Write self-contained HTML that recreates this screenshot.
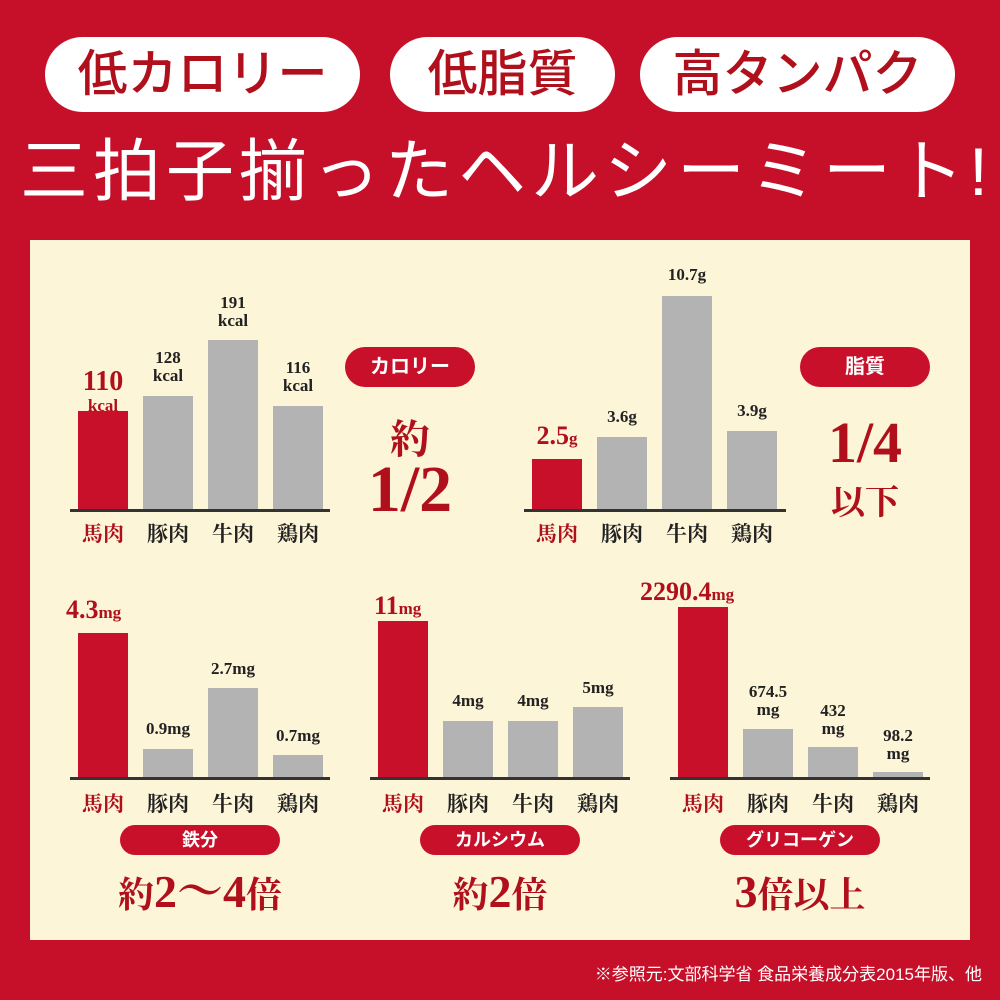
<!DOCTYPE html>
<html><head><meta charset="utf-8">
<style>
*{margin:0;padding:0;box-sizing:border-box}
body{width:1000px;height:1000px;background:#c61029;position:relative;overflow:hidden;font-family:"Liberation Serif","Noto Serif CJK JP","Noto Serif CJK SC",serif}
.a{position:absolute}
.pill{position:absolute;background:#fff;border-radius:38px;color:#b0101c;font-family:"Liberation Sans","Noto Sans CJK JP",sans-serif;font-size:50px;text-align:center;line-height:75px;top:37px;height:75px;font-weight:500}
.title{position:absolute;left:20px;top:132px;width:980px;color:#fff;font-family:"Liberation Sans","Noto Sans CJK JP",sans-serif;font-size:68px;line-height:80px;white-space:nowrap;letter-spacing:5px}
.panel{position:absolute;left:30px;top:240px;width:940px;height:700px;background:#fdf5d8}
.bar{position:absolute;width:50px;background:#b3b3b3}
.red{background:#c8102b}
.axis{position:absolute;height:3px;background:#333}
.cat{position:absolute;width:70px;text-align:center;font-size:21px;font-weight:bold;color:#222}
.val{position:absolute;width:90px;text-align:center;font-size:17px;font-weight:bold;color:#222;line-height:18px}
.rp{position:absolute;background:#c8102b;color:#fff;border-radius:20px;text-align:center;font-size:20px;font-weight:bold;font-family:"Liberation Sans","Noto Sans CJK JP",sans-serif}
.big{position:absolute;color:#b0101c;font-weight:bold;text-align:center}
</style></head><body>
<div class="pill" style="left:45px;width:315px">低カロリー</div>
<div class="pill" style="left:390px;width:225px">低脂質</div>
<div class="pill" style="left:640px;width:315px">高タンパク</div>
<div class="title">三拍子揃ったヘルシーミート!</div>
<div class="panel"></div>

<!-- calorie -->
<div class="bar red" style="left:78px;top:411px;height:99px"></div>
<div class="bar" style="left:143px;top:396px;height:114px"></div>
<div class="bar" style="left:208px;top:340px;height:170px"></div>
<div class="bar" style="left:273px;top:406px;height:104px"></div>
<div class="axis" style="left:70px;top:509px;width:260px"></div>
<div class="val" style="left:58px;top:368px;color:#b0101c;font-size:28px;line-height:28px">110</div>
<div class="val" style="left:58px;top:397px;color:#b0101c">kcal</div>
<div class="val" style="left:123px;top:349px">128<br>kcal</div>
<div class="val" style="left:188px;top:294px">191<br>kcal</div>
<div class="val" style="left:253px;top:359px">116<br>kcal</div>
<div class="cat" style="left:68px;top:518px;color:#b0101c">馬肉</div>
<div class="cat" style="left:133px;top:518px">豚肉</div>
<div class="cat" style="left:198px;top:518px">牛肉</div>
<div class="cat" style="left:263px;top:518px">鶏肉</div>
<div class="rp" style="left:345px;top:347px;width:130px;height:40px;line-height:40px">カロリー</div>
<div class="big" style="left:350px;top:408px;width:120px;font-size:40px">約</div>
<div class="big" style="left:330px;top:452px;width:160px;font-size:66px;line-height:76px">1/2</div>

<!-- fat -->
<div class="bar red" style="left:532px;top:459px;height:51px"></div>
<div class="bar" style="left:597px;top:437px;height:73px"></div>
<div class="bar" style="left:662px;top:296px;height:214px"></div>
<div class="bar" style="left:727px;top:431px;height:79px"></div>
<div class="axis" style="left:524px;top:509px;width:262px"></div>
<div class="val" style="left:512px;top:422px;color:#b0101c;font-size:26px;line-height:28px">2.5<span style="font-size:17px">g</span></div>
<div class="val" style="left:577px;top:408px">3.6g</div>
<div class="val" style="left:642px;top:266px">10.7g</div>
<div class="val" style="left:707px;top:402px">3.9g</div>
<div class="cat" style="left:522px;top:518px;color:#b0101c">馬肉</div>
<div class="cat" style="left:587px;top:518px">豚肉</div>
<div class="cat" style="left:652px;top:518px">牛肉</div>
<div class="cat" style="left:717px;top:518px">鶏肉</div>
<div class="rp" style="left:800px;top:347px;width:130px;height:40px;line-height:40px">脂質</div>
<div class="big" style="left:795px;top:408px;width:140px;font-size:58px;line-height:70px">1/4</div>
<div class="big" style="left:805px;top:475px;width:120px;font-size:34px">以下</div>

<!-- iron -->
<div class="bar red" style="left:78px;top:633px;height:145px"></div>
<div class="bar" style="left:143px;top:749px;height:29px"></div>
<div class="bar" style="left:208px;top:688px;height:90px"></div>
<div class="bar" style="left:273px;top:755px;height:23px"></div>
<div class="axis" style="left:70px;top:777px;width:260px"></div>
<div class="val" style="top:596px;width:100px;color:#b0101c;font-size:26px;line-height:28px;text-align:left;left:66px">4.3<span style="font-size:17px">mg</span></div>
<div class="val" style="left:123px;top:720px">0.9mg</div>
<div class="val" style="left:188px;top:660px">2.7mg</div>
<div class="val" style="left:253px;top:727px">0.7mg</div>
<div class="cat" style="left:68px;top:788px;color:#b0101c">馬肉</div>
<div class="cat" style="left:133px;top:788px">豚肉</div>
<div class="cat" style="left:198px;top:788px">牛肉</div>
<div class="cat" style="left:263px;top:788px">鶏肉</div>
<div class="rp" style="left:120px;top:825px;width:160px;height:30px;line-height:30px;font-size:18px">鉄分</div>
<div class="big" style="left:90px;top:862px;width:220px;font-size:36px;line-height:60px">約<span style="font-size:46px">2～4</span>倍</div>

<!-- calcium -->
<div class="bar red" style="left:378px;top:621px;height:157px"></div>
<div class="bar" style="left:443px;top:721px;height:57px"></div>
<div class="bar" style="left:508px;top:721px;height:57px"></div>
<div class="bar" style="left:573px;top:707px;height:71px"></div>
<div class="axis" style="left:370px;top:777px;width:260px"></div>
<div class="val" style="left:374px;top:592px;width:100px;text-align:left;color:#b0101c;font-size:26px;line-height:28px">11<span style="font-size:17px">mg</span></div>
<div class="val" style="left:423px;top:692px">4mg</div>
<div class="val" style="left:488px;top:692px">4mg</div>
<div class="val" style="left:553px;top:679px">5mg</div>
<div class="cat" style="left:368px;top:788px;color:#b0101c">馬肉</div>
<div class="cat" style="left:433px;top:788px">豚肉</div>
<div class="cat" style="left:498px;top:788px">牛肉</div>
<div class="cat" style="left:563px;top:788px">鶏肉</div>
<div class="rp" style="left:420px;top:825px;width:160px;height:30px;line-height:30px;font-size:18px">カルシウム</div>
<div class="big" style="left:400px;top:862px;width:200px;font-size:36px;line-height:60px">約<span style="font-size:46px">2</span>倍</div>

<!-- glycogen -->
<div class="bar red" style="left:678px;top:607px;height:171px"></div>
<div class="bar" style="left:743px;top:729px;height:49px"></div>
<div class="bar" style="left:808px;top:747px;height:31px"></div>
<div class="bar" style="left:873px;top:772px;height:6px"></div>
<div class="axis" style="left:670px;top:777px;width:260px"></div>
<div class="val" style="left:640px;top:578px;width:140px;text-align:left;color:#b0101c;font-size:26px;line-height:28px">2290.4<span style="font-size:17px">mg</span></div>
<div class="val" style="left:723px;top:683px">674.5<br>mg</div>
<div class="val" style="left:788px;top:702px">432<br>mg</div>
<div class="val" style="left:853px;top:727px">98.2<br>mg</div>
<div class="cat" style="left:668px;top:788px;color:#b0101c">馬肉</div>
<div class="cat" style="left:733px;top:788px">豚肉</div>
<div class="cat" style="left:798px;top:788px">牛肉</div>
<div class="cat" style="left:863px;top:788px">鶏肉</div>
<div class="rp" style="left:720px;top:825px;width:160px;height:30px;line-height:30px;font-size:18px">グリコーゲン</div>
<div class="big" style="left:700px;top:862px;width:200px;font-size:36px;line-height:60px"><span style="font-size:46px">3</span>倍以上</div>

<div class="a" style="right:18px;top:960px;color:#fff;font-size:17px;font-family:'Liberation Sans','Noto Sans CJK JP',sans-serif">※参照元:文部科学省 食品栄養成分表2015年版、他</div>
</body></html>
